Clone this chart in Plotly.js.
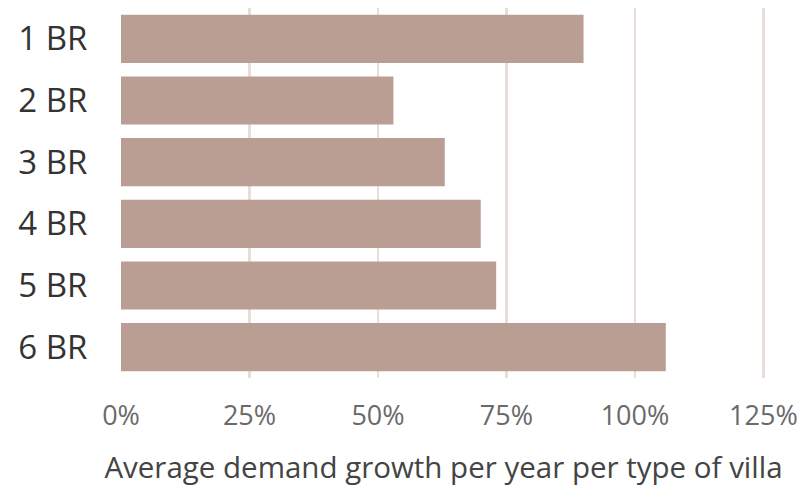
<!DOCTYPE html>
<html>
<head>
<meta charset="utf-8">
<script src="https://cdn.plot.ly/plotly-3.0.1.min.js"></script>
<style>html,body{margin:0;padding:0;background:#fff;}#chart{width:806px;height:487px;}</style>
</head>
<body>
<div id="chart"></div>
<script>
const categories = ["1 BR", "2 BR", "3 BR", "4 BR", "5 BR", "6 BR"];
const growthPct = [90, 53, 63, 70, 73, 106];
const xTickValues = [0, 25, 50, 75, 100, 125];
const xTickLabels = ["0%", "25%", "50%", "75%", "100%", "125%"];
const xAxisTitle = "Average demand growth per year per type of villa";

const trace = {
  type: "bar",
  orientation: "h",
  x: growthPct,
  y: categories,
  marker: {color: "#bb9e93"},
  hoverinfo: "x+y"
};

const layout = {
  width: 806,
  height: 487,
  margin: {l: 121, r: 40, t: 8, b: 109},
  paper_bgcolor: "#ffffff",
  plot_bgcolor: "#ffffff",
  showlegend: false,
  bargap: 0.22,
  font: {family: "Open Sans, sans-serif"},
  xaxis: {
    range: [0, 125.5],
    tickvals: xTickValues,
    ticktext: xTickLabels,
    showgrid: true,
    gridcolor: "#eadcd8",
    gridwidth: 2.5,
    zeroline: false,
    showline: false,
    ticks: "outside",
    ticklen: 14,
    tickcolor: "rgba(0,0,0,0)",
    tickfont: {size: 27, color: "#6a6a6a"},
    title: {text: xAxisTitle, font: {size: 29.5, color: "#444444"}, standoff: 24}
  },
  yaxis: {
    autorange: "reversed",
    showgrid: false,
    zeroline: false,
    showline: false,
    ticks: "outside",
    ticklen: 26,
    tickcolor: "rgba(0,0,0,0)",
    tickfont: {size: 33, color: "#333333"}
  }
};

Plotly.newPlot("chart", [trace], layout, {displayModeBar: false, staticPlot: true});
</script>
</body>
</html>
